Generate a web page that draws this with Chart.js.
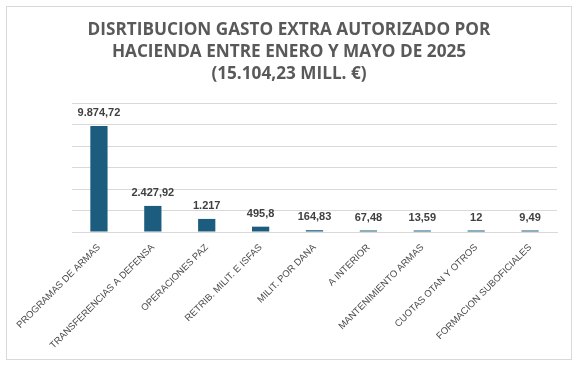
<!DOCTYPE html>
<html>
<head>
<meta charset="utf-8">
<script src="https://cdn.jsdelivr.net/npm/chart.js@4"></script>
<style>
  html, body { margin: 0; padding: 0; background: #fff; }
  #wrap { width: 578px; height: 365px; }
</style>
</head>
<body>
<div id="wrap"><canvas id="gastoChart" width="578" height="365"></canvas></div>
<script>
// datos del grafico
const categorias = [
  "PROGRAMAS DE ARMAS",
  "TRANSFERENCIAS A DEFENSA",
  "OPERACIONES PAZ",
  "RETRIB. MILIT. E ISFAS",
  "MILIT. POR DANA",
  "A INTERIOR",
  "MANTENIMIENTO ARMAS",
  "CUOTAS OTAN Y OTROS",
  "FORMACION SUBOFICIALES"
];
const importes = [9874.72, 2427.92, 1217, 495.8, 164.83, 67.48, 13.59, 12, 9.49];
const titulo = [
  "DISRTIBUCION GASTO EXTRA AUTORIZADO POR",
  "HACIENDA ENTRE ENERO Y MAYO DE 2025",
  "(15.104,23 MILL. €)"
];

// formato con punto de miles y coma decimal
function formatoES(v) {
  const partes = String(v).split(".");
  const entero = partes[0].replace(/\B(?=(\d{3})+(?!\d))/g, ".");
  return partes.length > 1 ? entero + "," + partes[1] : entero;
}

// marco exterior y etiquetas de valor
const marcoYValores = {
  id: "marcoYValores",
  beforeDraw(chart) {
    const ctx = chart.ctx;
    ctx.save();
    ctx.fillStyle = "#ffffff";
    ctx.fillRect(0, 0, chart.width, chart.height);
    ctx.strokeStyle = "#d9d9d9";
    ctx.lineWidth = 1;
    ctx.strokeRect(6.5, 6.5, 565, 353);
    ctx.restore();
  },
  afterDatasetsDraw(chart) {
    const ctx = chart.ctx;
    const meta = chart.getDatasetMeta(0);
    ctx.save();
    ctx.font = "bold 11px 'Liberation Sans', Arial, sans-serif";
    ctx.fillStyle = "#404040";
    ctx.textAlign = "center";
    ctx.textBaseline = "middle";
    meta.data.forEach((bar, i) => {
      ctx.fillText(formatoES(importes[i]), bar.x, bar.y - 13);
    });
    ctx.restore();
  }
};

new Chart(document.getElementById("gastoChart"), {
  type: "bar",
  data: {
    labels: categorias,
    datasets: [{
      data: importes,
      backgroundColor: "#1b5c7f",
      categoryPercentage: 1,
      barPercentage: 0.32,
      minBarLength: 1.5
    }]
  },
  options: {
    responsive: false,
    animation: false,
    layout: { padding: { left: 21, right: 21, top: 0, bottom: 0 } },
    plugins: {
      legend: { display: false },
      tooltip: { enabled: false },
      title: {
        display: true,
        text: titulo,
        color: "#595959",
        font: { family: "'Open Sans', sans-serif", size: 17.2, weight: "bold", lineHeight: 1.28 },
        padding: { top: 19.5, bottom: 17.5 }
      }
    },
    scales: {
      x: {
        grid: { display: false },
        border: { color: "#d9d9d9" },
        ticks: {
          color: "#4a4a4a",
          font: { family: "'Liberation Sans', Arial, sans-serif", size: 9.5 },
          minRotation: 45,
          maxRotation: 45,
          autoSkip: false,
          padding: 2
        },
        afterFit(scale) { scale.height = 133; }
      },
      y: {
        min: 0,
        max: 12000,
        ticks: { stepSize: 2000, display: false },
        grid: { color: "#d9d9d9", drawTicks: false },
        border: { display: false },
        afterFit(scale) { scale.width = 51; }
      }
    }
  },
  plugins: [marcoYValores]
});
</script>
</body>
</html>
